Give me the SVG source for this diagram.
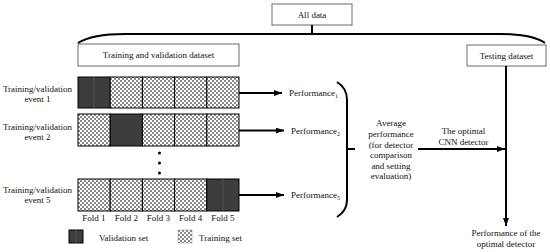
<svg xmlns="http://www.w3.org/2000/svg" width="550" height="252" viewBox="0 0 550 252">
<defs>
<pattern id="chk" width="4" height="4" patternUnits="userSpaceOnUse">
<rect width="4" height="4" fill="#ffffff"/>
<rect width="2" height="2" fill="#8a8a8a"/>
<rect x="2" y="2" width="2" height="2" fill="#8a8a8a"/>
</pattern>
<marker id="arr" markerWidth="8" markerHeight="6" refX="8" refY="3" orient="auto" markerUnits="userSpaceOnUse">
<path d="M0,0 L8,3 L0,6 Z" fill="#000"/>
</marker>
<style>
text{font-family:"Liberation Serif","Times New Roman",serif;font-size:9px;fill:#111}
.box{fill:#fff;stroke:#6b6b6b;stroke-width:1}
.val{fill:#3d3d3d;stroke:#000;stroke-width:1}
.trn{fill:url(#chk);stroke:#000;stroke-width:1}
.ln{fill:none;stroke:#000;stroke-width:2}
.mid{text-anchor:middle}
.sub{font-size:6px}
</style>
</defs>

<g id="all-data">
<rect class="box" x="272" y="4" width="80" height="21"/>
<text class="mid" x="312" y="18">All data</text>
</g>

<g id="train-val-dataset">
<rect class="box" x="78" y="44" width="161" height="22"/>
<text class="mid" x="158.5" y="58">Training and validation dataset</text>
</g>

<g id="testing-dataset">
<rect class="box" x="467" y="45" width="79" height="21"/>
<text class="mid" x="506.5" y="58.5">Testing dataset</text>
</g>

<g id="event1">
<text class="mid" x="37.5" y="92">Training/validation</text>
<text class="mid" x="37.5" y="102">event 1</text>
<rect class="val" x="78" y="77" width="32.2" height="31"/>
<line x1="94" y1="77" x2="94" y2="108" stroke="#555" stroke-width="0.8"/>
<rect class="trn" x="110.2" y="77" width="32.2" height="31"/>
<rect class="trn" x="142.4" y="77" width="32.2" height="31"/>
<rect class="trn" x="174.6" y="77" width="32.2" height="31"/>
<rect class="trn" x="206.8" y="77" width="32.2" height="31"/>
</g>

<g id="event2">
<text class="mid" x="37.5" y="130">Training/validation</text>
<text class="mid" x="37.5" y="139.5">event 2</text>
<rect class="trn" x="78" y="114" width="32.2" height="32"/>
<rect class="val" x="110.2" y="114" width="32.2" height="32"/>
<rect class="trn" x="142.4" y="114" width="32.2" height="32"/>
<rect class="trn" x="174.6" y="114" width="32.2" height="32"/>
<rect class="trn" x="206.8" y="114" width="32.2" height="32"/>
</g>

<g id="dots">
<circle cx="159.5" cy="153" r="1.5" fill="#000"/>
<circle cx="159.5" cy="163" r="1.5" fill="#000"/>
<circle cx="159.5" cy="173" r="1.5" fill="#000"/>
</g>

<g id="event5">
<text class="mid" x="37.5" y="193">Training/validation</text>
<text class="mid" x="37.5" y="203">event 5</text>
<rect class="trn" x="78" y="179" width="32.2" height="32"/>
<rect class="trn" x="110.2" y="179" width="32.2" height="32"/>
<rect class="trn" x="142.4" y="179" width="32.2" height="32"/>
<rect class="trn" x="174.6" y="179" width="32.2" height="32"/>
<rect class="val" x="206.8" y="179" width="32.2" height="32"/>
<line x1="223" y1="179" x2="223" y2="211" stroke="#555" stroke-width="0.8"/>
</g>

<g id="fold-labels">
<text class="mid" x="94" y="221">Fold 1</text>
<text class="mid" x="126.3" y="221">Fold 2</text>
<text class="mid" x="158.5" y="221">Fold 3</text>
<text class="mid" x="190.7" y="221">Fold 4</text>
<text class="mid" x="222.9" y="221">Fold 5</text>
</g>

<g id="legend">
<rect class="val" x="69" y="230" width="14" height="13" stroke="none"/>
<line x1="76" y1="230" x2="76" y2="243" stroke="#555" stroke-width="0.8"/>
<text x="99" y="240.5">Validation set</text>
<rect x="178" y="230" width="14" height="13" fill="url(#chk)" stroke="#888" stroke-width="0.5"/>
<text x="199" y="240.5">Training set</text>
</g>

<g id="performance-labels">
<text x="289" y="96">Performance<tspan class="sub" dy="2">1</tspan></text>
<text x="291" y="133.5">Performance<tspan class="sub" dy="2">2</tspan></text>
<text x="291" y="198">Performance<tspan class="sub" dy="2">5</tspan></text>
</g>

<g id="average-performance">
<text class="mid" x="391" y="126">Average</text>
<text class="mid" x="391" y="137">performance</text>
<text class="mid" x="391" y="147.5">(for detector</text>
<text class="mid" x="391" y="158">comparison</text>
<text class="mid" x="391" y="168.5">and setting</text>
<text class="mid" x="391" y="179">evaluation)</text>
</g>

<g id="optimal-cnn">
<text class="mid" x="463.5" y="134">The optimal</text>
<text class="mid" x="463.5" y="145">CNN detector</text>
</g>

<g id="final-performance">
<text class="mid" x="506" y="236">Performance of the</text>
<text class="mid" x="506" y="247">optimal detector</text>
</g>

<g id="connectors">
<path class="ln" d="M78,43 Q92,34 125,34 L500,34 Q532,34 545,43"/>
<line class="ln" x1="312" y1="25" x2="312" y2="34"/>
<line class="ln" x1="239" y1="93" x2="282" y2="93" marker-end="url(#arr)"/>
<line class="ln" x1="239" y1="130.5" x2="284" y2="130.5" marker-end="url(#arr)"/>
<line class="ln" x1="239" y1="195" x2="284" y2="195" marker-end="url(#arr)"/>
<path class="ln" d="M337,82 Q347,88 347,100 L347,200 Q347,211 337,217"/>
<line class="ln" x1="347" y1="149" x2="355" y2="149"/>
<line class="ln" x1="418" y1="149" x2="505" y2="149" marker-end="url(#arr)"/>
<line class="ln" x1="506" y1="66" x2="506" y2="226" marker-end="url(#arr)"/>
</g>
</svg>
